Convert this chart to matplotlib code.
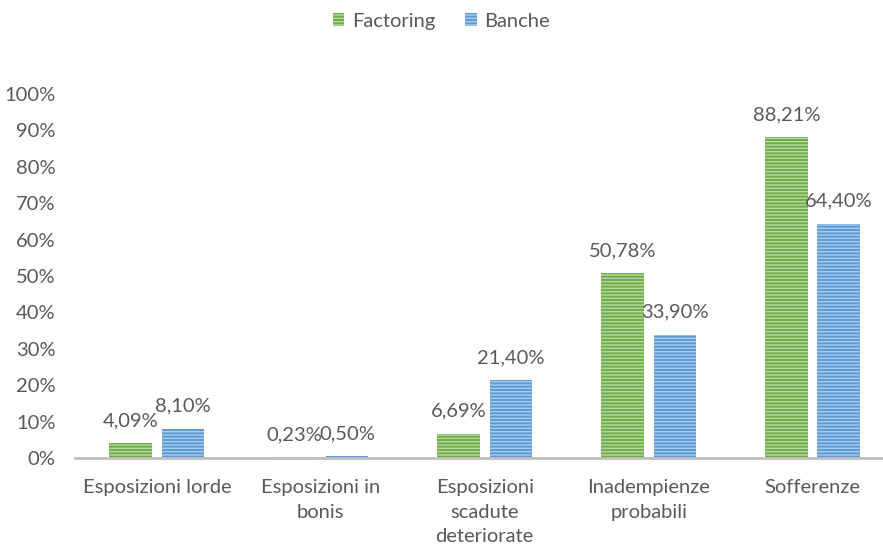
import numpy as np
import matplotlib.pyplot as plt

categories = ["Esposizioni lorde", "Esposizioni in\nbonis", "Esposizioni\nscadute\ndeteriorate",
              "Inadempienze\nprobabili", "Sofferenze"]
factoring = [4.09, 0.23, 6.69, 50.78, 88.21]
banche = [8.10, 0.50, 21.40, 33.90, 64.40]
yticks = [0, 10, 20, 30, 40, 50, 60, 70, 80, 90, 100]

plt.rcParams['font.family'] = ['Lato', 'DejaVu Sans']
plt.rcParams['hatch.linewidth'] = 1.0
txt = '#595959'
fs = 14.5

fig = plt.figure(figsize=(8.83, 5.46), dpi=100)
ax = fig.add_axes([75 / 883, 88 / 546, 808 / 883, (458 - 94) / 546])

x = np.arange(len(categories))
w = 0.26
off = 0.16
b1 = ax.bar(x - off, factoring, w, color='#70AD47', edgecolor='#B5D99C', hatch='-----', lw=0,
            label='Factoring')
b2 = ax.bar(x + off, banche, w, color='#5B9BD5', edgecolor='#A9CBEC', hatch='-----', lw=0,
            label='Banche')

# etichette sopra le barre
for bars, vals in ((b1, factoring), (b2, banche)):
    for r, v in zip(bars, vals):
        ax.annotate(f"{v:.2f}%".replace('.', ','), (r.get_x() + r.get_width() / 2, v),
                    xytext=(0, 10), textcoords='offset points', ha='center', va='bottom',
                    fontsize=fs, color=txt)

ax.set_xlim(-0.5, 4.43)
ax.set_ylim(0, 100)
ax.set_yticks(yticks)
ax.set_yticklabels([f"{t}%" for t in yticks])
ax.set_xticks(x)
ax.set_xticklabels(categories, linespacing=1.55)
ax.tick_params(axis='both', length=0, colors=txt, labelsize=fs)
ax.tick_params(axis='y', pad=14)
ax.tick_params(axis='x', pad=15)
for s in ['top', 'right', 'left']:
    ax.spines[s].set_visible(False)
ax.spines['bottom'].set_color('#BFBFBF')
ax.spines['bottom'].set_linewidth(2)

fig.legend(loc='upper center', bbox_to_anchor=(0.5, 1.01), ncol=2, frameon=False,
           fontsize=fs, handlelength=0.55, handleheight=0.55, columnspacing=1.5,
           handletextpad=0.4, labelcolor=txt)

fig.savefig('out.png', dpi=100)
